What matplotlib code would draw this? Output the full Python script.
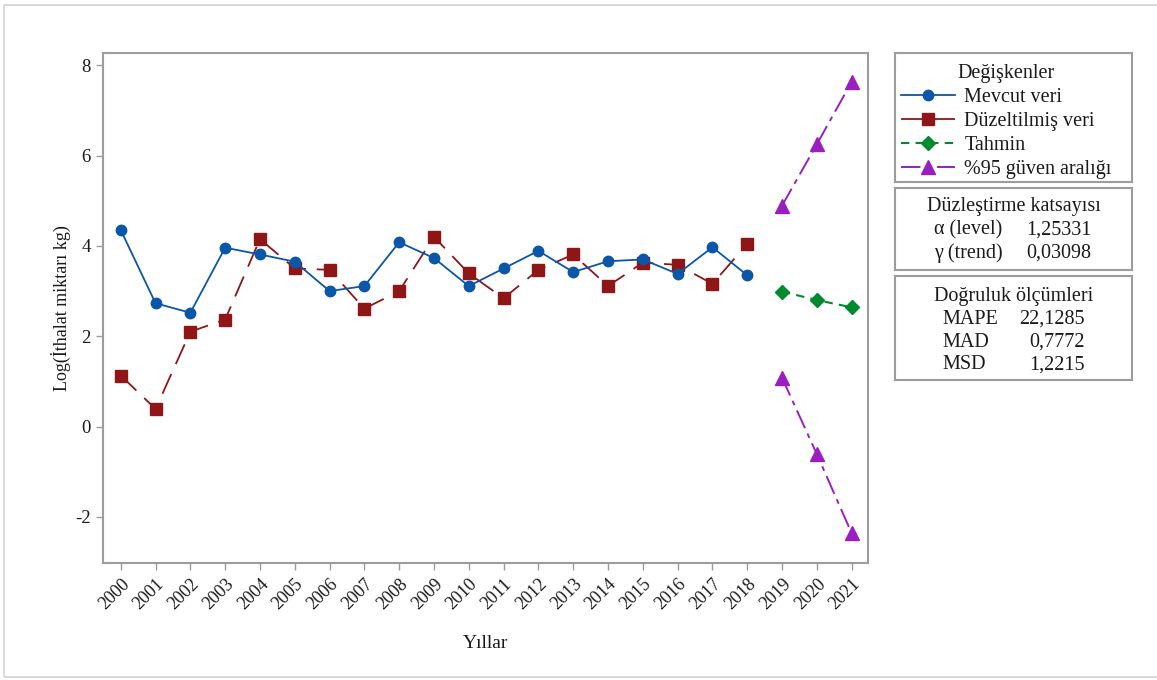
import matplotlib
matplotlib.use("Agg")
import matplotlib.pyplot as plt
from matplotlib.patches import Rectangle

plt.rcParams['font.family'] = ['Liberation Serif', 'DejaVu Serif']

# --- Data ---
years = list(range(2000, 2022))
years_obs = years[:19]          # 2000-2018
years_fc = years[19:]           # 2019-2021

mevcut = [4.35, 2.73, 2.52, 3.96, 3.81, 3.65, 3.00, 3.11, 4.08, 3.73, 3.11,
          3.50, 3.89, 3.42, 3.66, 3.70, 3.38, 3.97, 3.35]
duzeltilmis = [1.13, 0.39, 2.10, 2.37, 4.15, 3.50, 3.47, 2.61, 3.00, 4.20, 3.39,
               2.84, 3.47, 3.81, 3.11, 3.63, 3.58, 3.16, 4.04]
tahmin = [2.99, 2.80, 2.64]
ust_sinir = [4.89, 6.25, 7.63]
alt_sinir = [1.08, -0.61, -2.36]

y_ticks = [-2, 0, 2, 4, 6, 8]

katsayi_labels = ["α (level)", "γ (trend)"]
katsayi_values = ["1,25331", "0,03098"]
dogruluk_labels = ["MAPE", "MAD", "MSD"]
dogruluk_values = ["22,1285", "0,7772", "1,2215"]

# --- Colours ---
BLUE = "#0A56A8"
RED = "#8E1616"
GREEN = "#008A2E"
PURPLE = "#9A1FC0"
GREY = "#9C9C9C"
TXT = "#1a1a1a"
FS_BOX = 14.5

fig = plt.figure(figsize=(11.57, 6.8), dpi=100)

# light outer frame
fig.patches.append(Rectangle((4 / 1157, 3 / 680), 2.0, 672 / 680, transform=fig.transFigure,
                             fill=False, edgecolor="#d4d4d4", linewidth=1.2))

ax = fig.add_axes([103 / 1157, 117 / 680, 765 / 1157, 510 / 680])

l1, = ax.plot(years_obs, mevcut, color=BLUE, lw=1.3, marker='o', markersize=7.5,
              label="Mevcut veri", zorder=4)
l2, = ax.plot(years_obs, duzeltilmis, color=RED, lw=1.3, linestyle=(0, (12, 6)),
              marker='s', markersize=8.5, label="Düzeltilmiş veri", zorder=3)
l3, = ax.plot(years_fc, tahmin, color=GREEN, lw=1.5, linestyle=(0, (4, 3)),
              marker='D', markersize=7.5, label="Tahmin", zorder=3)
l4, = ax.plot(years_fc, ust_sinir, color=PURPLE, lw=1.4, linestyle=(0, (10, 3, 2.5, 3)),
              marker='^', markersize=10, label="%95 güven aralığı", zorder=3)
ax.plot(years_fc, alt_sinir, color=PURPLE, lw=1.4, linestyle=(0, (10, 3, 2.5, 3)),
        marker='^', markersize=10, zorder=3)

ax.set_xlim(1999.49, 2021.47)
ax.set_ylim(-3.02, 8.27)
ax.set_xticks(years)
ax.set_xticklabels([str(y) for y in years], rotation=45, ha='right', va='top',
                   rotation_mode='anchor', fontsize=13, color=TXT)
ax.set_yticks(y_ticks)
ax.set_yticklabels([str(v) for v in y_ticks], fontsize=13.5, color=TXT)
ax.tick_params(axis='both', direction='out', length=5, width=1, color=GREY, pad=4)
for sp in ax.spines.values():
    sp.set_color(GREY)
    sp.set_linewidth(1.5)

ax.set_xlabel("Yıllar", fontsize=14, color=TXT, labelpad=16)
ax.set_ylabel("Log(İthalat miktarı kg)", fontsize=13, color=TXT, labelpad=3)


def box_axes(rect):
    b = fig.add_axes(rect)
    b.set_xticks([])
    b.set_yticks([])
    b.set_xlim(0, 1)
    b.set_ylim(0, 1)
    for sp in b.spines.values():
        sp.set_color(GREY)
        sp.set_linewidth(1.5)
    return b


bx_left = 895 / 1157
bx_w = 237 / 1157

# Box 1: legend
b1 = box_axes([bx_left, (680 - 181.7) / 680, bx_w, 129 / 680])
leg = b1.legend(handles=[l1, l2, l3, l4], loc='center left', bbox_to_anchor=(0.025, 0.465),
                frameon=False, title="Değişkenler", fontsize=FS_BOX, title_fontsize=FS_BOX,
                handlelength=2.7, handletextpad=0.45, labelspacing=0.25,
                borderpad=0.0, borderaxespad=0.0)
for t in leg.get_texts():
    t.set_color(TXT)
leg.get_title().set_color(TXT)

# Box 2: smoothing coefficients
b2 = box_axes([bx_left, (680 - 270) / 680, bx_w, 82.3 / 680])
b2.text(0.50, 0.77, "Düzleştirme katsayısı", ha='center', va='center', fontsize=FS_BOX, color=TXT)
for i, (lab, val) in enumerate(zip(katsayi_labels, katsayi_values)):
    yy = 0.486 - i * 0.276
    b2.text(0.165, yy, lab, ha='left', va='center', fontsize=FS_BOX, color=TXT)
    b2.text(0.83, yy, val, ha='right', va='center', fontsize=FS_BOX, color=TXT)

# Box 3: accuracy measures
b3 = box_axes([bx_left, (680 - 380) / 680, bx_w, 104.3 / 680])
b3.text(0.50, 0.80, "Doğruluk ölçümleri", ha='center', va='center', fontsize=FS_BOX, color=TXT)
for i, (lab, val) in enumerate(zip(dogruluk_labels, dogruluk_values)):
    yy = 0.582 - i * 0.219
    b3.text(0.20, yy, lab, ha='left', va='center', fontsize=FS_BOX, color=TXT)
    b3.text(0.80, yy, val, ha='right', va='center', fontsize=FS_BOX, color=TXT)

fig.savefig("out.png", dpi=100)
